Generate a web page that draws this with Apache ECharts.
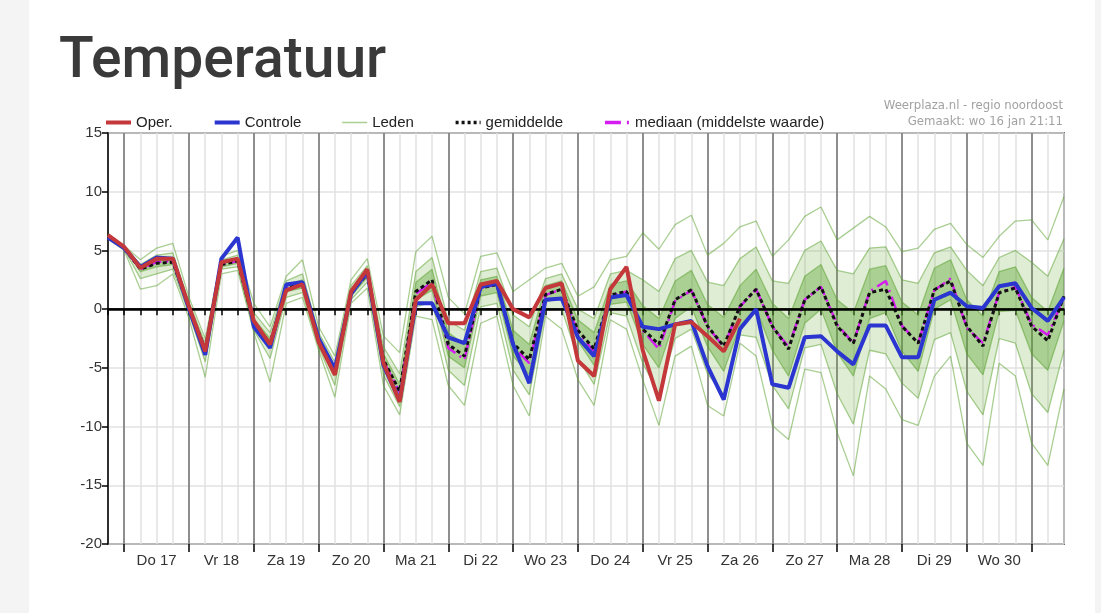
<!doctype html>
<html>
<head>
    <meta charset="UTF-8">
    <title>Temperatuur</title>
    <script src="https://cdn.jsdelivr.net/npm/echarts@6/dist/echarts.min.js"></script>
    <style>
        html, body { margin: 0; padding: 0; background: #f4f4f4; }
        .card { position: absolute; left: 29px; top: 0; width: 1066px; height: 613px; background: #fff; }
        #main { position: absolute; left: 0; top: 0; width: 1101px; height: 613px; }
    </style>
</head>
<body>
<div class="card"></div>
<div id="main"></div>
<script>
    // tijdas: 6-uurlijks, van wo 16 18:00 t/m do 31 12:00
    var days = ['Wo 16', 'Do 17', 'Vr 18', 'Za 19', 'Zo 20', 'Ma 21', 'Di 22', 'Wo 23',
        'Do 24', 'Vr 25', 'Za 26', 'Zo 27', 'Ma 28', 'Di 29', 'Wo 30', 'Do 31'];
    var hours = ['00:00', '06:00', '12:00', '18:00'];
    var yTicks = [-20, -15, -10, -5, 0, 5, 10, 15];

    var oper = [6.3, 5.3, 3.5, 4.3, 4.3, 0.2, -3.6, 4.0, 4.3, -1.0, -3.0, 1.6, 2.1, -2.8, -5.6, 1.5, 3.4, -4.6, -7.9,
        0.8, 2.1, -1.2, -1.2, 2.1, 2.4, 0.0, -0.7, 1.8, 2.2, -4.4, -5.7, 1.7, 3.6, -3.5, -7.8, -1.3, -1.1, -2.3, -3.6, -0.8];

    var controle = [6.1, 5.2, 3.6, 4.4, 4.3, 0.0, -3.9, 4.3, 6.1, -1.5, -3.3, 2.1, 2.3, -2.5, -5.1, 1.3, 3.2, -4.8, -7.8,
        0.5, 0.5, -2.4, -2.9, 1.9, 2.2, -3.0, -6.3, 0.8, 0.9, -2.4, -4.0, 1.0, 1.2, -1.5, -1.7, -1.3, -1.0, -4.85, -7.7, -1.7,
        0.0, -6.4, -6.7, -2.4, -2.3, -3.6, -4.7, -1.4, -1.4, -4.1, -4.1, 0.8, 1.4, 0.25, 0.1, 1.95, 2.2, 0.1, -1.0, 1.0];

    var gemiddelde = [6.2, 5.2, 3.4, 3.9, 4.0, 0.1, -3.4, 3.8, 4.1, -1.2, -2.9, 1.8, 2.1, -2.6, -5.3, 1.4, 3.0, -4.3, -7.0,
        1.5, 2.5, -3.0, -4.0, 1.8, 2.1, -2.9, -4.3, 1.25, 1.7, -1.8, -3.4, 1.2, 1.5, -1.7, -3.0, 0.8, 1.65, -1.45, -3.15, 0.25,
        1.7, -1.45, -3.4, 0.8, 1.9, -1.45, -2.9, 1.4, 1.7, -1.45, -2.9, 1.65, 2.4, -1.45, -3.15, 1.4, 1.8, -1.45, -2.7, 1.1];

    var mediaan = [6.2, 5.2, 3.4, 4.0, 4.1, 0.1, -3.4, 3.8, 4.1, -1.2, -2.9, 1.8, 2.1, -2.6, -5.3, 1.4, 3.0, -4.4, -7.1,
        1.3, 2.3, -3.3, -4.3, 1.8, 2.1, -3.2, -4.6, 1.2, 1.7, -2.0, -3.6, 1.1, 1.5, -1.8, -3.4, 0.7, 1.6, -1.5, -3.2, 0.2,
        1.7, -1.5, -3.2, 0.8, 1.9, -1.3, -2.9, 1.5, 2.4, -1.4, -2.9, 1.6, 2.6, -1.6, -2.9, 1.4, 1.9, -1.3, -2.2, 1.0];

    var ledenMax = [6.4, 5.4, 4.2, 5.2, 5.6, 1.0, -2.5, 4.5, 5.0, 0.5, -1.5, 2.8, 4.2, -1.5, -4.0, 2.5, 4.3, -2.3, -3.7,
        4.9, 6.2, 1.0, -0.4, 4.5, 4.8, 1.5, 2.5, 3.5, 3.9, 1.1, 1.9, 4.2, 4.5, 6.5, 5.1, 7.2, 8.0, 4.6, 5.6, 7.0,
        7.5, 4.5, 5.9, 7.9, 8.7, 5.9, 6.9, 7.9, 7.0, 4.9, 5.2, 6.8, 7.3, 5.5, 4.4, 6.2, 7.5, 7.6, 5.9, 9.6];
    var ledenP90 = [6.3, 5.3, 3.8, 4.6, 4.8, 0.6, -2.9, 4.2, 4.6, -0.3, -2.0, 2.4, 3.0, -2.0, -4.5, 2.0, 3.7, -3.2, -5.5,
        3.2, 4.4, -1.0, -1.8, 3.2, 3.5, -0.5, -1.5, 2.6, 3.0, 0.0, -0.8, 3.0, 3.3, 2.5, 1.5, 4.3, 5.0, 2.3, 2.0, 4.3,
        5.3, 2.4, 2.2, 5.0, 5.8, 3.3, 3.0, 5.2, 5.3, 2.5, 2.2, 4.8, 5.3, 3.3, 2.0, 4.4, 5.0, 4.0, 2.8, 6.0];
    var ledenP75 = [6.25, 5.25, 3.6, 4.3, 4.4, 0.3, -3.2, 4.0, 4.3, -0.8, -2.5, 2.1, 2.5, -2.3, -4.9, 1.7, 3.3, -3.8, -6.4,
        2.3, 3.4, -2.0, -3.0, 2.5, 2.8, -1.8, -3.0, 2.0, 2.4, -0.9, -2.0, 2.1, 2.4, 0.3, -0.8, 2.4, 3.3, 0.4, -0.7, 2.0,
        3.4, 0.5, -0.8, 2.8, 3.8, 0.8, -0.3, 3.4, 3.7, 0.6, -0.5, 3.5, 4.2, 0.8, -0.6, 3.2, 3.6, 1.0, -0.2, 3.5];
    var ledenP25 = [6.15, 5.15, 3.2, 3.6, 3.8, -0.1, -3.7, 3.6, 3.9, -1.5, -3.3, 1.5, 1.8, -2.9, -5.7, 1.1, 2.7, -4.8, -7.6,
        0.8, 1.6, -4.0, -5.0, 1.1, 1.4, -4.0, -5.6, 0.6, 1.0, -2.7, -4.8, 0.4, 0.6, -3.0, -5.0, -0.8, 0.2, -3.2, -5.3, -1.4,
        0.0, -3.5, -5.7, -1.2, 0.0, -3.7, -5.7, -0.8, -0.3, -3.6, -5.3, 0.0, 0.8, -3.8, -5.6, -0.2, -0.1, -3.8, -5.2, -1.0];
    var ledenP10 = [6.1, 5.1, 2.6, 3.0, 3.4, -0.4, -4.5, 3.4, 3.6, -1.8, -4.2, 1.0, 1.4, -3.2, -6.5, 0.8, 2.3, -5.6, -8.3,
        0.2, 0.6, -5.2, -6.5, 0.2, 0.5, -5.2, -7.3, -0.1, 0.0, -4.2, -6.4, -0.3, -0.6, -4.6, -7.2, -2.5, -1.7, -5.5, -7.3, -2.2,
        -2.4, -6.5, -8.5, -3.3, -3.0, -7.2, -9.8, -3.5, -3.8, -6.3, -7.6, -2.6, -2.0, -7.0, -9.0, -2.5, -2.9, -7.2, -8.8, -3.5];
    var ledenMin = [6.0, 5.0, 1.7, 2.0, 3.0, -0.8, -5.8, 3.0, 3.3, -2.0, -6.2, 0.5, 1.0, -3.5, -7.5, 0.5, 1.8, -6.5, -9.0,
        -0.6, -0.9, -6.5, -8.2, -1.2, -0.6, -6.5, -9.1, -0.6, -1.7, -6.0, -8.2, -0.9, -1.7, -6.0, -9.9, -4.0, -3.15, -8.2, -9.1, -2.9,
        -4.0, -9.9, -11.1, -5.1, -5.4, -10.5, -14.2, -5.7, -6.8, -9.4, -9.9, -5.7, -4.0, -11.4, -13.3, -4.6, -5.7, -11.4, -13.3, -6.8];

    // categorieen opbouwen: start wo 16 18:00
    var times = [];
    days.forEach(function (d) {
        hours.forEach(function (h) {
            times.push(d + ' ' + h);
        });
    });
    times = times.slice(3, 3 + ledenMax.length);

    var isDay = function (i) {
        return times[i].slice(-5) === '00:00';
    };

    var kleur = {
        oper: '#c4373a',
        controle: '#2b35d0',
        leden: 'rgba(85,160,40,0.5)',
        gemiddelde: '#111',
        mediaan: '#d41cf0'
    };

    var leden = function (data) {
        return {
            name: 'Leden', type: 'line', data: data, symbol: 'none', silent: true, z: 2,
            lineStyle: {color: kleur.leden, width: 1.3}, itemStyle: {color: kleur.leden}
        };
    };
    var band = function (lo, hi, stack, color) {
        return [{
            type: 'line', data: lo, stack: stack, stackStrategy: 'all', symbol: 'none', silent: true, z: 1,
            lineStyle: {opacity: 0}
        }, {
            type: 'line', data: hi.map(function (v, i) { return v - lo[i]; }), stack: stack, stackStrategy: 'all',
            symbol: 'none', silent: true, z: 1, lineStyle: {opacity: 0}, areaStyle: {color: color, opacity: 1}
        }];
    };

    var myChart = echarts.init(document.getElementById('main'));
    var font = '"Liberation Sans", Arial, sans-serif';

    var option = {
        animation: false,
        title: {
            text: 'Temperatuur', left: 54, top: 29,
            textStyle: {fontFamily: 'Roboto', fontWeight: 500, fontSize: 57, color: '#3a3a3a'}
        },
        graphic: [
            {type: 'text', right: 38, top: 99, style: {text: 'Weerplaza.nl - regio noordoost', fill: '#a2a2a2',
                    font: '13px "DejaVu Sans Condensed", "Liberation Sans", sans-serif'}},
            {type: 'text', right: 38, top: 115, style: {text: 'Gemaakt: wo 16 jan 21:11', fill: '#a2a2a2',
                    font: '13px "DejaVu Sans Condensed", "Liberation Sans", sans-serif'}}
        ],
        legend: {
            left: 99, top: 110, itemWidth: 25, itemHeight: 14, itemGap: 40,
            itemStyle: {opacity: 0, borderWidth: 0},
            data: [
                {name: 'Oper.', lineStyle: {width: 4, color: kleur.oper}},
                {name: 'Controle', lineStyle: {width: 4, color: kleur.controle}},
                {name: 'Leden', lineStyle: {width: 1.5, color: kleur.leden}},
                {name: 'gemiddelde', lineStyle: {width: 3.5, color: kleur.gemiddelde, type: [3, 3]}},
                {name: 'mediaan (middelste waarde)', lineStyle: {width: 3.5, color: kleur.mediaan, type: [16, 6, 2, 6]}}
            ],
            textStyle: {fontFamily: font, fontSize: 15, color: '#222'}
        },
        grid: {left: 108, right: 37, top: 133, bottom: 69, show: true, borderColor: '#000', borderWidth: 1.5},
        xAxis: [{
            type: 'category', data: times, boundaryGap: false,
            axisLine: {lineStyle: {color: '#000', width: 1.5}},
            axisTick: {interval: 0, length: 6, lineStyle: {color: '#000', width: 1.5}},
            axisLabel: {
                interval: 0, margin: 9, fontFamily: font, fontSize: 15, color: '#333',
                formatter: function (v, i) {
                    return (v.slice(-5) === '12:00' && i < times.length - 1) ? v.slice(0, -6) : '';
                }
            },
            splitLine: {show: true, interval: 0, lineStyle: {color: '#e2e2e2', width: 1.5}}
        }, {
            type: 'category', data: times, boundaryGap: false, position: 'bottom',
            axisLine: {show: false}, axisLabel: {show: false},
            axisTick: {interval: isDay, length: 8, lineStyle: {color: '#000', width: 1.5}},
            splitLine: {show: true, interval: isDay, lineStyle: {color: '#707070', width: 1.5}}
        }],
        yAxis: {
            type: 'value', min: yTicks[0], max: yTicks[yTicks.length - 1], interval: 5,
            axisLine: {show: true, lineStyle: {color: '#000', width: 1.5}},
            axisTick: {show: true, length: 6, lineStyle: {color: '#000', width: 1.5}},
            axisLabel: {margin: 6, fontFamily: font, fontSize: 15, color: '#333'},
            splitLine: {lineStyle: {color: '#e2e2e2', width: 1.5}}
        },
        series: [].concat(
            band(ledenP10, ledenP90, 'buiten', 'rgba(110,175,65,0.22)'),
            band(ledenP25, ledenP75, 'binnen', 'rgba(85,160,40,0.38)'),
            [
                leden(ledenMax), leden(ledenP90), leden(ledenP75), leden(ledenP25), leden(ledenP10), leden(ledenMin),
                {
                    name: 'gemiddelde', type: 'line', data: gemiddelde, symbol: 'none', z: 4,
                    lineStyle: {color: kleur.gemiddelde, width: 3, type: [4, 3]}, itemStyle: {color: kleur.gemiddelde},
                    markLine: {
                        silent: true, symbol: 'none', label: {show: false},
                        lineStyle: {color: '#000', width: 2.5, type: 'solid'},
                        data: [{yAxis: 0}]
                    }
                },
                {
                    name: 'mediaan (middelste waarde)', type: 'line', data: mediaan, symbol: 'none', z: 3,
                    lineStyle: {color: kleur.mediaan, width: 2.5, type: [15, 5, 2, 5]}, itemStyle: {color: kleur.mediaan}
                },
                {
                    name: 'Controle', type: 'line', data: controle, symbol: 'none', z: 5,
                    lineStyle: {color: kleur.controle, width: 4}, itemStyle: {color: kleur.controle}
                },
                {
                    name: 'Oper.', type: 'line', data: oper, symbol: 'none', z: 6,
                    lineStyle: {color: kleur.oper, width: 4}, itemStyle: {color: kleur.oper}
                }
            ]
        )
    };

    myChart.setOption(option);
</script>
</body>
</html>
